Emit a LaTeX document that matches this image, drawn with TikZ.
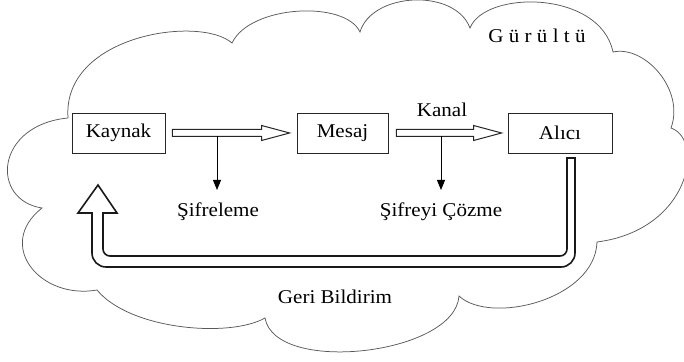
\documentclass[tikz,border=0pt]{standalone}
\usepackage{fontspec}
\setmainfont{Liberation Serif}[FakeStretch=1.08]
\usetikzlibrary{arrows.meta,calc}
\begin{document}
\begin{tikzpicture}[x=1pt,y=1pt,
  txt/.style={font=\fontsize{19.5}{22}\selectfont},
  box/.style={txt, draw=black!85, line width=0.8pt, minimum height=40, inner sep=0},
  lbl/.style={txt, inner sep=0},
  cloudline/.style={draw=black!65, line width=0.75pt},
  hollow/.style={draw=black!85, line width=1pt, fill=white, line join=miter,
    to path={let \p1=(\tikztostart), \p2=(\tikztotarget) in
      (\x1,\y1+3.5pt) -- (\x2-28pt,\y1+3.5pt) -- (\x2-28pt,\y1+7.5pt) -- (\x2,\y1)
      -- (\x2-28pt,\y1-7.5pt) -- (\x2-28pt,\y1-3.5pt) -- (\x1,\y1-3.5pt) -- cycle}},
  thin/.style={draw=black, line width=0.8pt, -{Triangle[length=10pt,width=8pt]}},
  fb/.style={draw=black!90, line width=1.6pt, line join=miter, fill=white},
]
\useasboundingbox (0,0) rectangle (684,361);

% cloud
\draw[cloudline]
  (42,153) .. controls (-10,161) and (-5,236) .. (68,243)
  .. controls (62,326) and (200,346) .. (232,318)
  .. controls (250,356) and (345,361) .. (360,329)
  .. controls (372,369) and (455,373) .. (470,333)
  .. controls (485,371) and (600,371) .. (613,309)
  .. controls (645,316) and (685,271) .. (671,233)
  .. controls (705,221) and (690,131) .. (597,119)
  .. controls (595,61) and (490,36) .. (459,65)
  .. controls (455,6) and (275,-14) .. (265,43)
  .. controls (230,23) and (130,31) .. (97,71)
  .. controls (40,61) and (-5,116) .. cycle;

% boxes
\node[box, minimum width=93] (kaynak) at (118.5,228) {Kaynak};
\node[box, minimum width=91] (mesaj) at (342.5,228) {Mesaj};
\node[box, minimum width=104] (alici) at (560,228) {Alıcı};

% labels
\node[lbl] (kanal) at (442,251) {Kanal};
\node[lbl] (sifre) at (218,149) {Şifreleme};
\node[lbl] (cozme) at (441,149) {Şifreyi Çözme};
\node[lbl] (gurultu) at (537,325) {G ü r ü l t ü};
\node[lbl] (geri) at (335,64) {Geri Bildirim};

% hollow arrows
\coordinate (a1) at ([xshift=7]kaynak.east);
\coordinate (a2) at ([xshift=-7]mesaj.west);
\coordinate (b1) at ([xshift=8]mesaj.east);
\coordinate (b2) at ([xshift=-6]alici.west);
\draw[hollow] (a1) to (a2);
\draw[hollow] (b1) to (b2);

% thin arrows
\coordinate (e1) at (217,224.5);
\coordinate (e1t) at (217,171);
\coordinate (d1) at (441,224.5);
\coordinate (d1t) at (441,171);
\draw[thin] (e1) -- (e1t);
\draw[thin] (d1) -- (d1t);

% feedback arrow
\draw[fb] (567,203) -- (575,203) -- (575,108) arc[start angle=0,end angle=-90,radius=14]
  -- (106,94) arc[start angle=270,end angle=180,radius=14]
  -- (92,148) -- (78,148) -- (98,176) -- (117,148) -- (103,148)
  -- (103,112) arc[start angle=180,end angle=270,radius=7]
  -- (560,105) arc[start angle=270,end angle=360,radius=7] -- cycle;
\end{tikzpicture}
\end{document}
